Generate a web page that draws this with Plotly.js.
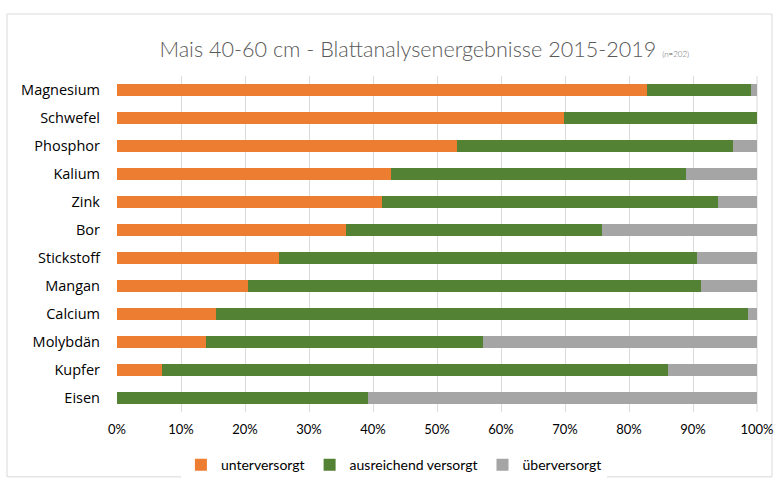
<!DOCTYPE html>
<html>
<head>
<meta charset="utf-8">
<script src="https://cdn.plot.ly/plotly-3.0.1.min.js"></script>
<style>html,body{margin:0;padding:0;background:#fff;}#chart{width:780px;height:482px;}</style>
</head>
<body>
<div id="chart"></div>
<script>
const categories = ['Magnesium','Schwefel','Phosphor','Kalium','Zink','Bor','Stickstoff','Mangan','Calcium','Molybdän','Kupfer','Eisen'];
const unterversorgt = [82.8, 69.8, 53.1, 42.8, 41.4, 35.8, 25.3, 20.5, 15.5, 13.9, 7.0, 0];
const ausreichend   = [16.3, 30.2, 43.2, 46.1, 52.5, 40.0, 65.3, 70.7, 83.1, 43.3, 79.1, 39.2];
const ueberversorgt = [0.9, 0, 3.7, 11.1, 6.1, 24.2, 9.4, 8.8, 1.4, 42.8, 13.9, 60.8];
const seriesNames = ['unterversorgt','ausreichend versorgt','überversorgt'];
const seriesColors = ['#ED7D31','#548235','#A5A5A5'];
const xTicks = [0,10,20,30,40,50,60,70,80,90,100];

const FONT = 'Lato, "Open Sans", sans-serif';
const data = [unterversorgt, ausreichend, ueberversorgt].map((vals, i) => ({
  type: 'bar', orientation: 'h',
  y: categories, x: vals,
  name: seriesNames[i],
  marker: {color: seriesColors[i], line: {width: 0}},
  hoverinfo: 'skip'
}));

const layout = {
  width: 780, height: 482,
  margin: {l: 117, r: 23, t: 76, b: 70, autoexpand: false},
  paper_bgcolor: '#ffffff', plot_bgcolor: '#ffffff',
  font: {family: FONT, color: '#000000', size: 14},
  barmode: 'stack',
  bargap: 0.6,
  title: {
    text: 'Mais 40-60 cm - Blattanalysenergebnisse 2015-2019 <span style="font-size:8px">(n=202)</span>',
    font: {family: FONT, size: 21.6, color: '#595959', weight: 300},
    x: 0.544, xanchor: 'center', xref: 'container',
    y: 0.898, yanchor: 'middle', yref: 'container'
  },
  xaxis: {
    range: [0, 100], tickvals: xTicks, ticktext: xTicks.map(v => v + '%'),
    showgrid: true, gridcolor: '#D9D9D9', gridwidth: 1,
    zeroline: false, showline: false, ticks: '', ticklabelstandoff: 8,
    tickfont: {family: FONT, size: 13, color: '#000000'},
    fixedrange: true
  },
  yaxis: {
    autorange: 'reversed', type: 'category',
    showgrid: false, zeroline: false, showline: false, ticks: '',
    ticklabelstandoff: 16,
    tickfont: {family: '"Open Sans", sans-serif', size: 14.5, color: '#000000', weight: 400},
    fixedrange: true
  },
  legend: {
    orientation: 'h', xref: 'container', yref: 'container',
    x: 0.505, xanchor: 'center', y: 0.035, yanchor: 'middle',
    font: {family: FONT, size: 14, color: '#000000'},
    traceorder: 'normal', itemwidth: 30
  },
  shapes: [
    {type: 'rect', xref: 'paper', yref: 'paper', x0: -0.1719, x1: 1.0234, y0: -0.193, y1: 1.1845,
     line: {color: '#D9D9D9', width: 1}, fillcolor: 'rgba(0,0,0,0)', layer: 'below'},
    {type: 'line', xref: 'paper', yref: 'paper', x0: 1, x1: 1, y0: 0, y1: 1,
     line: {color: '#D9D9D9', width: 1}, layer: 'below'}
  ]
};

Plotly.newPlot('chart', data, layout, {displayModeBar: false, staticPlot: true});
</script>
</body>
</html>
